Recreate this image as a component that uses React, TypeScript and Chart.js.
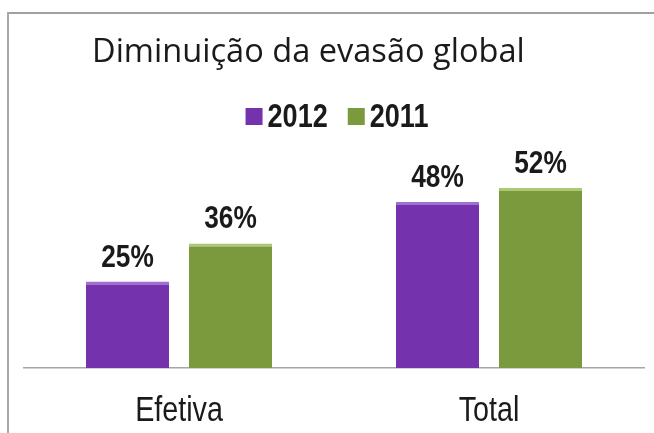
import React, { useEffect, useRef } from "react";
import { Chart, registerables } from "chart.js";

Chart.register(...registerables);

const titleText = "Diminuição da evasão global";
const categories = ["Efetiva", "Total"];
const seriesNames = ["2012", "2011"];
const values2012 = [25, 48];
const values2011 = [36, 52];
const seriesColors = ["#7532AD", "#7A9A3D"];
const seriesTopColors = ["#A070D0", "#A9C972"];

const SANS = '"Liberation Sans Narrow", "Arial Narrow", "Liberation Sans", Arial, sans-serif';
const CONDENSE = 0.82;
const TEXT_COLOR = "#1a1a1a";

function drawCondensed(
  ctx: CanvasRenderingContext2D,
  text: string,
  x: number,
  y: number,
  font: string,
  align: CanvasTextAlign
) {
  ctx.save();
  ctx.font = font;
  ctx.fillStyle = TEXT_COLOR;
  ctx.textAlign = align;
  ctx.textBaseline = "alphabetic";
  ctx.translate(x, y);
  ctx.scale(CONDENSE, 1);
  ctx.fillText(text, 0, 0);
  ctx.restore();
}

function condensedWidth(ctx: CanvasRenderingContext2D, text: string, font: string) {
  ctx.save();
  ctx.font = font;
  const w = ctx.measureText(text).width * CONDENSE;
  ctx.restore();
  return w;
}

const titlePlugin = {
  id: "leftTitle",
  afterDraw(chart: any) {
    const ctx = chart.ctx;
    ctx.save();
    ctx.font = '32.6px "Open Sans", "Noto Sans", sans-serif';
    ctx.fillStyle = TEXT_COLOR;
    ctx.textAlign = "left";
    ctx.textBaseline = "alphabetic";
    ctx.fillText(titleText, 92, 62);
    ctx.restore();
  },
};

const legendPlugin = {
  id: "condensedLegend",
  afterDraw(chart: any) {
    const ctx = chart.ctx;
    const font = "bold 33px " + SANS;
    const box = 17;
    const gap = 5;
    const itemGap = 20;
    const items = chart.data.datasets.map((ds: any) => ({
      text: ds.label,
      color: ds.backgroundColor,
      w: condensedWidth(ctx, ds.label, font),
    }));
    const total =
      items.reduce((s: number, it: any) => s + box + gap + it.w, 0) + itemGap * (items.length - 1);
    const center = (chart.chartArea.left + chart.chartArea.right) / 2 + 3;
    let x = center - total / 2;
    const baseline = 127;
    items.forEach((it: any) => {
      ctx.save();
      ctx.fillStyle = it.color;
      ctx.fillRect(x, baseline - 19, box, box);
      ctx.restore();
      drawCondensed(ctx, it.text, x + box + gap, baseline, font, "left");
      x += box + gap + it.w + itemGap;
    });
  },
};

const valueLabelPlugin = {
  id: "valueLabels",
  afterDatasetsDraw(chart: any) {
    const ctx = chart.ctx;
    const font = "bold 32px " + SANS;
    chart.data.datasets.forEach((ds: any, i: number) => {
      const meta = chart.getDatasetMeta(i);
      meta.data.forEach((el: any, j: number) => {
        drawCondensed(ctx, `${ds.data[j]}%`, el.x, el.y - 15, font, "center");
      });
    });
  },
};

const tickLabelPlugin = {
  id: "condensedTicks",
  afterDraw(chart: any) {
    const ctx = chart.ctx;
    const xScale = chart.scales.x;
    const font = "35px " + SANS;
    chart.data.labels.forEach((label: string, i: number) => {
      drawCondensed(ctx, label, xScale.getPixelForTick(i), chart.chartArea.bottom + 53, font, "center");
    });
  },
};

export default function App() {
  const ref = useRef<HTMLCanvasElement | null>(null);

  useEffect(() => {
    if (!ref.current) return;
    const chart = new Chart(ref.current, {
      type: "bar",
      data: {
        labels: categories,
        datasets: [
          {
            label: seriesNames[0],
            data: values2012,
            backgroundColor: seriesColors[0],
            borderColor: seriesTopColors[0],
            borderWidth: { top: 3, left: 0, right: 0, bottom: 0 },
            borderSkipped: "bottom",
          },
          {
            label: seriesNames[1],
            data: values2011,
            backgroundColor: seriesColors[1],
            borderColor: seriesTopColors[1],
            borderWidth: { top: 3, left: 0, right: 0, bottom: 0 },
            borderSkipped: "bottom",
          },
        ],
      },
      options: {
        responsive: false,
        animation: false,
        devicePixelRatio: 1,
        categoryPercentage: 0.665,
        barPercentage: 0.806,
        layout: { padding: { top: 153.5, left: 24, right: 10, bottom: 0 } },
        plugins: {
          title: { display: false },
          tooltip: { enabled: false },
          legend: { display: false },
        },
        scales: {
          x: {
            grid: { display: false, drawTicks: false },
            border: { display: true, color: "#a6a6a6", width: 1.5 },
            ticks: { display: false },
            afterFit: (scale: any) => {
              scale.height = 65;
            },
          },
          y: {
            display: false,
            min: 0,
            max: 62,
          },
        },
      },
      plugins: [titlePlugin, legendPlugin, valueLabelPlugin, tickLabelPlugin],
    } as any);
    return () => chart.destroy();
  }, []);

  return (
    <div
      style={{
        position: "fixed",
        left: 0,
        top: 0,
        width: 654,
        height: 433,
        background: "#fff",
        overflow: "hidden",
      }}
    >
      <div
        style={{
          position: "absolute",
          left: 8,
          top: 12,
          right: 0,
          height: 2,
          background: "#a0a0a0",
        }}
      />
      <div
        style={{
          position: "absolute",
          left: 7,
          top: 12,
          width: 2,
          bottom: 0,
          background: "#a8a8a8",
        }}
      />
      <canvas
        ref={ref}
        width={654}
        height={433}
        style={{ position: "absolute", left: 0, top: 0, width: 654, height: 433 }}
      />
    </div>
  );
}
